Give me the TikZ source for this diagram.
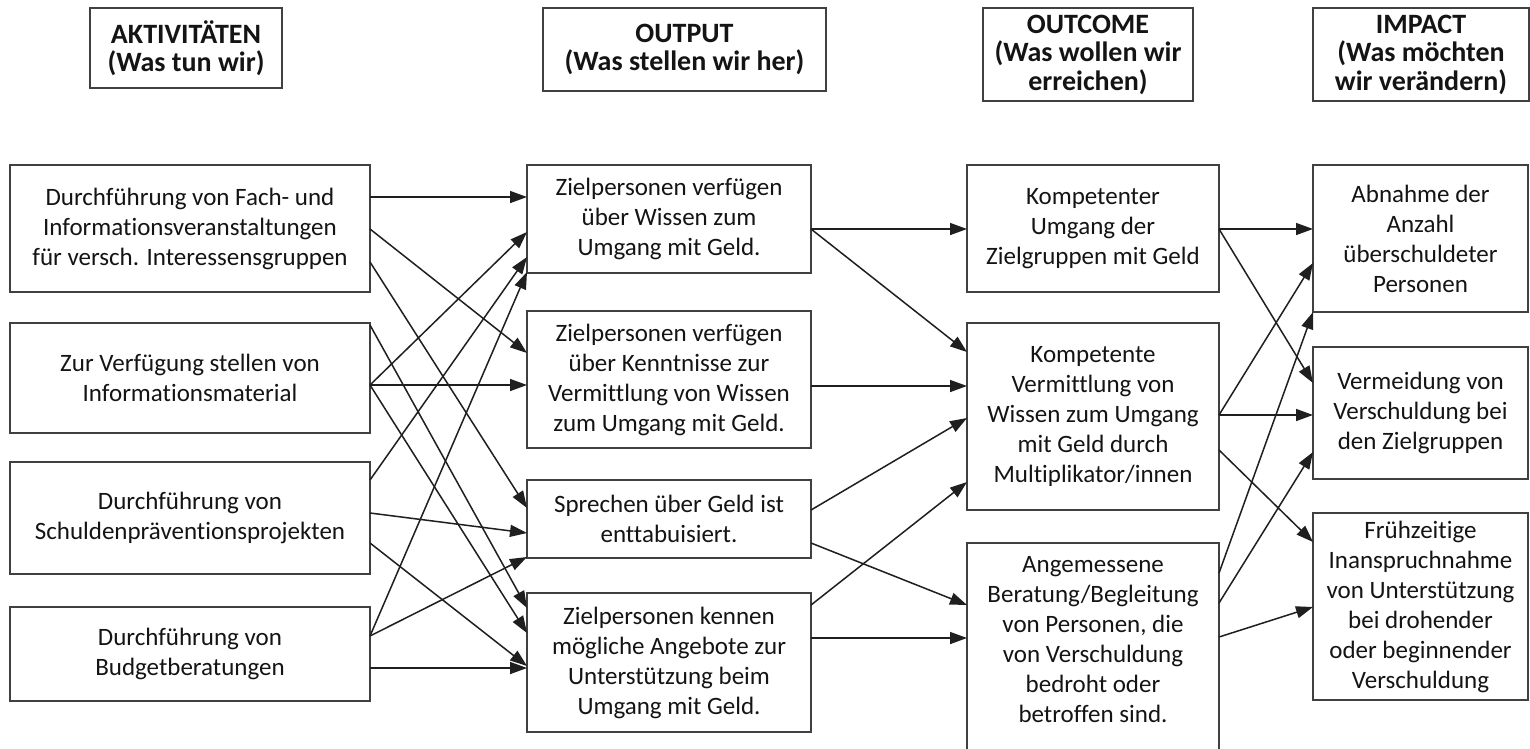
\documentclass[tikz,border=0pt]{standalone}
\usepackage{fontspec}
\setmainfont{Carlito}[Ligatures={NoCommon}]
\usetikzlibrary{arrows.meta}
\newcommand\conn[4]{\draw[arr] ([yshift=-#2pt]#1.north east) -- ([yshift=-#4pt]#3.north west);}
\begin{document}
\begin{tikzpicture}[x=1pt,y=-1pt,
  box/.style={draw=black!75, line width=1.7pt, align=center, inner sep=0pt, outer sep=0pt,
    font=\fontsize{25}{30}\selectfont, text=black!92},
  head/.style={box, font=\bfseries\fontsize{28}{28.5}\selectfont},
  arr/.style={draw=black!88, line width=1.5pt, -{Triangle[length=17pt,width=12pt]}}]
\useasboundingbox[fill=white] (0,0) rectangle (1530,748);

% headers
\node[head, minimum width=192pt, minimum height=80pt] (H1) at (186,48) {AKTIVITÄTEN\\(Was tun wir)};
\node[head, minimum width=283pt, minimum height=83pt] (H2) at (684.5,49.5) {OUTPUT\\(Was stellen wir her)};
\node[head, minimum width=210pt, minimum height=93pt] (H3) at (1088,54.5) {OUTCOME\\(Was wollen wir\\erreichen)};
\node[head, minimum width=216pt, minimum height=93pt] (H4) at (1421,54.5) {IMPACT\\(Was möchten\\wir verändern)};

% column A
\node[box, minimum width=360pt, minimum height=127pt] (A1) at (190,228.5) {Durchführung von Fach- und\\Informationsveranstaltungen\\für versch. Interessensgruppen};
\node[box, minimum width=360pt, minimum height=110pt] (A2) at (190,378) {Zur Verfügung stellen von\\Informationsmaterial};
\node[box, minimum width=360pt, minimum height=112pt] (A3) at (190,518) {Durchführung von\\Schuldenpräventionsprojekten};
\node[box, minimum width=360pt, minimum height=94pt] (A4) at (190,654) {Durchführung von\\Budgetberatungen};

% column B
\node[box, minimum width=284pt, minimum height=108pt] (B1) at (669,219) {Zielpersonen verfügen\\über Wissen zum\\Umgang mit Geld.};
\node[box, minimum width=284pt, minimum height=137pt] (B2) at (669,379.5) {Zielpersonen verfügen\\über Kenntnisse zur\\Vermittlung von Wissen\\zum Umgang mit Geld.};
\node[box, minimum width=284pt, minimum height=78pt] (B3) at (669,519) {Sprechen über Geld ist\\enttabuisiert.};
\node[box, minimum width=284pt, minimum height=139pt] (B4) at (669,662.5) {Zielpersonen kennen\\mögliche Angebote zur\\Unterstützung beim\\Umgang mit Geld.};

% column C
\node[box, minimum width=252pt, minimum height=127pt] (C1) at (1093,228.5) {Kompetenter\\Umgang der\\Zielgruppen mit Geld};
\node[box, minimum width=252pt, minimum height=187pt] (C2) at (1093,416.5) {Kompetente\\Vermittlung von\\Wissen zum Umgang\\mit Geld durch\\Multiplikator/innen};
\node[box, minimum width=252pt, minimum height=214pt, text depth=22pt] (C3) at (1093,650) {Angemessene\\Beratung/Begleitung\\von Personen, die\\von Verschuldung\\bedroht oder\\betroffen sind.};

% column D
\node[box, minimum width=215pt, minimum height=147pt] (D1) at (1420.5,238.5) {Abnahme der\\Anzahl\\überschuldeter\\Personen};
\node[box, minimum width=215pt, minimum height=132pt] (D2) at (1420.5,413) {Vermeidung von\\Verschuldung bei\\den Zielgruppen};
\node[box, minimum width=215pt, minimum height=187pt] (D3) at (1420.5,606.5) {Frühzeitige\\Inanspruchnahme\\von Unterstützung\\bei drohender\\oder beginnender\\Verschuldung};

% A -> B
\conn{A1}{32}{B1}{32}
\conn{A1}{64}{B2}{42}
\conn{A1}{97}{B3}{28}
\conn{A2}{2}{B4}{15}
\conn{A2}{62}{B2}{74}
\conn{A2}{62}{B1}{67}
\conn{A2}{62}{B4}{40}
\conn{A3}{18}{B1}{92}
\conn{A3}{51}{B3}{53}
\conn{A3}{81}{B4}{73}
\conn{A4}{29}{B3}{77}
\conn{A4}{29}{B1}{107}
\conn{A4}{61}{B4}{75}

% B -> C
\conn{B1}{64}{C1}{64}
\conn{B1}{64}{C2}{29}
\conn{B2}{75}{C2}{63}
\conn{B3}{30}{C2}{95}
\conn{B3}{63}{C3}{62}
\conn{B4}{12}{C2}{159}
\conn{B4}{45}{C3}{95}

% C -> D
\conn{C1}{64}{D1}{64}
\conn{C1}{64}{D2}{36}
\conn{C2}{92}{D2}{68}
\conn{C2}{92}{D1}{98}
\conn{C2}{127}{D3}{29}
\conn{C3}{30}{D1}{147}
\conn{C3}{60}{D2}{105}
\conn{C3}{94}{D3}{94}
\end{tikzpicture}
\end{document}
